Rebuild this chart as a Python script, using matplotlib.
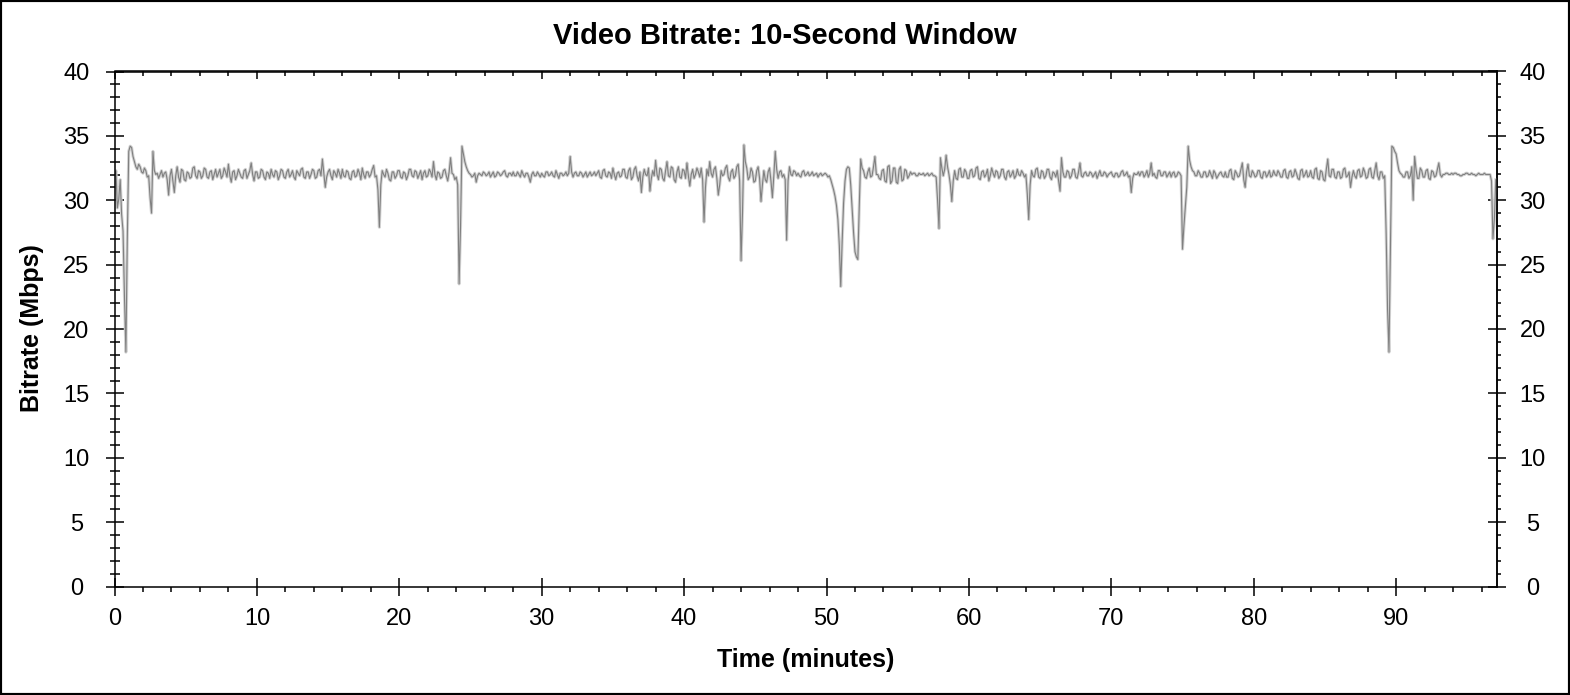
import matplotlib.pyplot as plt
from matplotlib.ticker import MultipleLocator
from matplotlib.patches import Rectangle
import numpy as np

plt.rcParams['font.family'] = ['Liberation Sans', 'DejaVu Sans']

# Bitrate do video (Mbps), uma amostra a cada 0.1 minuto (cada linha = 2 minutos)
passo_min = 0.1
bitrate = [
    31.8, 32.3, 29.4, 30.1, 31.6, 28.9, 27.6, 22.5, 18.2, 27.0, 33.8, 34.2, 34.1, 33.4, 33.0, 32.6, 32.4, 32.8, 32.6, 32.2,
    32.1, 32.5, 32.3, 31.8, 31.9, 30.2, 29.0, 33.8, 32.3, 32.0, 32.1, 31.7, 32.0, 32.3, 31.8, 32.1, 32.2, 31.6, 30.4, 31.9,
    32.4, 31.5, 30.6, 31.9, 32.6, 31.8, 31.4, 32.4, 32.3, 31.6, 31.5, 32.2, 32.1, 31.7, 31.8, 32.5, 32.6, 31.9, 31.7, 32.3,
    32.2, 31.7, 31.9, 32.5, 32.4, 31.8, 31.7, 32.2, 32.3, 31.6, 32.0, 32.4, 31.8, 32.1, 32.4, 31.7, 31.9, 32.5, 32.2, 31.8,
    32.8, 31.9, 31.4, 32.2, 32.3, 31.6, 31.9, 32.4, 32.1, 31.8, 31.7, 32.3, 32.4, 31.7, 32.0, 32.3, 32.9, 32.0, 31.5, 32.2,
    32.2, 31.7, 31.8, 32.4, 32.3, 31.8, 31.6, 32.2, 32.1, 31.7, 32.4, 32.0, 31.8, 32.3, 32.2, 31.6, 31.9, 32.4, 32.3, 31.8,
    31.7, 32.2, 32.4, 31.8, 32.0, 32.3, 31.8, 31.6, 32.3, 32.1, 31.9, 32.4, 32.5, 31.8, 31.7, 32.2, 32.2, 31.7, 32.0, 32.4,
    32.3, 31.7, 31.8, 32.3, 32.4, 31.9, 33.2, 32.1, 31.0, 31.8, 32.2, 32.4, 31.9, 31.6, 32.3, 32.1, 31.8, 32.4, 32.1, 31.7,
    32.4, 31.9, 31.8, 32.3, 32.2, 31.7, 31.6, 32.2, 32.3, 31.8, 31.9, 32.4, 32.1, 31.6, 32.5, 32.0, 31.7, 32.2, 32.2, 31.8,
    32.0, 32.4, 32.7, 31.8, 31.9, 30.8, 27.9, 31.2, 32.3, 32.0, 31.8, 32.4, 32.1, 31.6, 31.5, 32.2, 32.2, 31.7, 31.9, 32.3,
    32.3, 31.8, 31.7, 32.2, 32.1, 31.6, 31.9, 32.4, 32.4, 31.9, 31.8, 32.3, 32.2, 31.7, 32.0, 32.3, 31.6, 32.1, 32.3, 31.8,
    31.9, 32.4, 32.2, 31.8, 33.0, 32.0, 31.6, 32.2, 32.1, 31.7, 31.8, 32.3, 32.4, 31.9, 31.5, 32.2, 33.3, 32.1, 32.0, 31.6,
    31.8, 31.2, 23.5, 28.0, 34.2, 33.6, 33.0, 32.6, 32.3, 32.1, 32.0, 31.8, 31.9, 32.1, 31.4, 31.9, 32.1, 32.0, 31.9, 32.2,
    32.1, 31.9, 32.0, 32.2, 31.8, 32.0, 32.2, 31.8, 31.9, 32.2, 32.1, 31.9, 32.0, 32.2, 32.3, 31.9, 31.8, 32.1, 32.1, 31.9,
    32.2, 31.9, 31.9, 32.2, 32.0, 31.8, 32.3, 32.0, 31.8, 32.1, 32.1, 31.8, 31.4, 32.0, 32.2, 31.9, 31.9, 32.2, 32.0, 31.8,
    32.1, 31.9, 31.8, 32.2, 32.2, 31.9, 32.0, 32.2, 31.9, 31.8, 32.3, 32.0, 31.7, 32.1, 32.1, 31.9, 32.0, 32.2, 31.9, 32.1,
    33.4, 32.2, 31.8, 32.1, 32.2, 31.9, 31.9, 32.2, 32.1, 31.8, 32.0, 32.2, 31.8, 32.0, 32.2, 31.9, 32.0, 32.2, 31.9, 32.1,
    32.3, 31.8, 31.7, 32.3, 32.4, 31.9, 31.8, 32.2, 32.1, 31.7, 32.5, 32.0, 31.6, 32.1, 32.2, 31.8, 31.9, 32.4, 32.4, 31.8,
    31.7, 32.3, 32.5, 31.6, 31.8, 32.4, 32.6, 31.9, 31.5, 32.2, 30.6, 31.8, 32.4, 32.0, 31.9, 32.5, 30.7, 31.7, 32.3, 31.9,
    33.1, 32.0, 31.6, 32.5, 32.4, 31.7, 31.5, 32.3, 33.0, 31.9, 31.8, 32.6, 32.5, 31.6, 31.4, 32.2, 32.6, 31.8, 31.7, 32.4,
    32.3, 31.7, 32.9, 31.9, 31.1, 32.0, 32.4, 31.7, 32.0, 32.5, 32.2, 31.8, 32.5, 31.6, 28.3, 31.0, 32.4, 31.9, 33.0, 32.1,
    31.8, 32.4, 32.6, 31.7, 30.4, 31.2, 32.3, 31.9, 32.0, 32.5, 32.7, 31.8, 31.5, 32.2, 32.4, 31.7, 31.9, 32.6, 32.8, 31.5,
    25.3, 29.0, 34.3, 33.0, 32.5, 31.6, 31.8, 32.5, 32.2, 31.4, 31.5, 32.3, 32.6, 31.7, 29.9, 31.2, 32.3, 31.6, 31.4, 32.2,
    32.5, 31.5, 30.2, 31.9, 33.8, 32.4, 31.7, 32.2, 32.3, 31.8, 32.0, 31.6, 26.9, 31.5, 32.6, 32.0, 31.9, 32.3, 32.2, 31.9,
    32.1, 31.9, 31.8, 32.2, 32.3, 31.9, 32.0, 32.2, 31.9, 32.0, 32.2, 31.9, 32.0, 32.1, 31.8, 32.0, 32.1, 31.9, 32.0, 32.1,
    32.0, 31.8, 31.9, 31.6, 31.2, 30.8, 30.3, 29.6, 28.5, 26.5, 23.3, 26.8, 29.8, 31.5, 32.4, 32.6, 32.5, 31.2, 29.3, 27.5,
    26.0, 25.6, 25.4, 29.5, 33.2, 32.5, 32.3, 31.8, 31.7, 32.2, 32.5, 31.8, 31.9, 32.6, 33.4, 32.0, 32.0, 31.7, 31.6, 32.3,
    32.4, 31.5, 31.4, 32.6, 32.7, 31.3, 31.5, 32.5, 32.5, 31.4, 31.3, 32.4, 32.6, 31.5, 31.6, 32.4, 32.3, 31.7, 31.9, 32.2,
    32.0, 32.1, 32.1, 31.9, 31.9, 32.1, 32.0, 32.0, 32.1, 31.9, 32.0, 32.1, 31.9, 32.0, 32.1, 31.9, 31.9, 31.8, 30.0, 27.8,
    33.3, 32.5, 31.9, 32.4, 33.5, 32.6, 32.0, 31.2, 29.9, 31.5, 32.3, 31.7, 31.6, 32.4, 32.5, 31.8, 31.8, 32.4, 32.2, 31.7,
    31.7, 32.3, 32.4, 31.8, 31.9, 32.5, 32.6, 31.7, 31.6, 32.2, 32.3, 31.8, 32.0, 32.4, 31.5, 31.9, 32.5, 32.1, 31.8, 32.3,
    32.2, 31.7, 31.9, 32.4, 32.4, 31.8, 31.6, 32.2, 32.3, 31.8, 32.0, 32.3, 31.7, 31.9, 32.4, 32.0, 31.9, 32.3, 32.1, 31.8,
    32.0, 30.5, 28.5, 31.2, 32.3, 31.9, 31.8, 32.4, 32.5, 31.8, 31.7, 32.3, 32.2, 31.7, 31.9, 32.4, 32.4, 31.8, 31.6, 32.2,
    32.1, 31.8, 32.3, 31.5, 30.7, 33.3, 32.2, 31.8, 31.8, 32.3, 32.2, 31.7, 31.9, 32.4, 32.4, 31.8, 31.7, 32.2, 32.9, 31.9,
    31.8, 32.1, 32.2, 31.9, 31.9, 32.2, 32.1, 31.8, 32.0, 32.2, 31.7, 32.0, 32.3, 31.9, 31.9, 32.2, 32.1, 31.8, 32.0, 32.1,
    32.2, 31.9, 31.8, 32.1, 32.1, 31.8, 31.9, 32.2, 32.3, 31.9, 32.0, 32.2, 31.8, 31.9, 30.6, 31.7, 32.1, 32.0, 32.0, 32.2,
    31.9, 32.2, 32.2, 31.8, 32.0, 32.3, 31.8, 32.1, 32.9, 31.9, 32.1, 31.8, 31.7, 32.3, 32.3, 31.9, 31.9, 32.2, 32.2, 31.8,
    32.0, 32.2, 31.8, 32.1, 32.2, 31.8, 31.9, 32.2, 32.1, 31.9, 26.2, 28.0, 29.5, 31.0, 34.2, 33.1, 32.6, 32.3, 32.2, 31.9,
    31.9, 32.3, 32.1, 31.8, 31.8, 32.2, 32.2, 31.8, 31.9, 32.3, 32.0, 31.7, 32.3, 32.1, 31.7, 31.9, 32.1, 32.2, 31.9, 31.8,
    32.2, 31.8, 31.8, 32.3, 32.4, 31.7, 31.6, 32.3, 32.1, 31.8, 31.9, 32.4, 32.9, 31.6, 31.0, 32.2, 32.8, 31.9, 31.8, 32.3,
    32.1, 31.8, 31.9, 32.3, 32.3, 31.8, 31.7, 32.2, 32.2, 31.8, 32.0, 32.3, 31.8, 31.9, 32.3, 32.0, 31.9, 32.3, 32.1, 31.8,
    31.8, 32.3, 32.4, 31.8, 31.7, 32.2, 32.3, 31.8, 31.9, 32.4, 32.1, 31.7, 31.6, 32.3, 32.4, 31.8, 32.0, 32.3, 31.8, 31.9,
    32.3, 31.8, 31.7, 32.4, 32.5, 31.7, 31.6, 32.3, 32.2, 31.6, 31.5, 32.4, 33.2, 31.9, 31.8, 32.4, 32.4, 31.8, 31.7, 32.2,
    32.2, 31.7, 31.8, 32.4, 32.5, 31.8, 31.9, 32.2, 31.0, 31.8, 32.3, 31.9, 31.7, 32.3, 32.4, 31.8, 31.9, 32.5, 32.2, 31.7,
    31.8, 32.4, 32.5, 31.8, 31.7, 32.3, 32.9, 31.9, 31.6, 32.2, 32.2, 31.7, 31.9, 27.5, 21.5, 18.2, 26.5, 34.2, 34.1, 33.8,
    33.6, 32.9, 32.3, 32.1, 32.0, 31.8, 31.8, 32.2, 32.2, 31.7, 31.9, 32.6, 30.0, 33.4, 32.4, 31.7, 31.7, 32.5, 32.3, 31.8,
    31.8, 32.3, 32.4, 31.7, 31.6, 32.3, 32.2, 31.8, 31.9, 32.4, 32.9, 32.0, 31.8, 32.0, 32.0, 32.1, 32.1, 32.0, 32.0, 32.1,
    32.0, 32.1, 32.1, 32.0, 32.0, 31.9, 31.9, 32.0, 32.0, 32.1, 32.1, 32.0, 32.0, 32.1, 32.0, 32.0, 31.9, 32.0, 32.1, 32.0,
    32.0, 32.0, 32.1, 32.0, 32.0, 32.0, 32.0, 31.5, 27.0, 28.5, 31.6,
]
minutos = np.arange(len(bitrate)) * passo_min

W, H = 1570, 695
fig = plt.figure(figsize=(W / 100, H / 100), dpi=100)
ax = fig.add_axes([114.5 / W, 1 - 586.5 / H, (1496.5 - 114.5) / W, (586.5 - 71.5) / H])

# faixa clara por tras e linha cinza escura por cima
ax.plot(minutos, bitrate, color='#d3d3d3', lw=2.2)
ax.plot(minutos, bitrate, color='#808080', lw=0.8)

ax.set_xlim(0, 97.05)
ax.set_ylim(0, 40)

for s in ax.spines.values():
    s.set_linewidth(1.1)

ax.xaxis.set_major_locator(MultipleLocator(10))
ax.xaxis.set_minor_locator(MultipleLocator(2))
ax.yaxis.set_major_locator(MultipleLocator(5))
ax.yaxis.set_minor_locator(MultipleLocator(1))
ax.tick_params(axis='x', which='major', direction='inout', length=13.5, width=1.1,
               labelsize=17, pad=9, top=False)
ax.tick_params(axis='x', which='minor', direction='out', length=3.6, width=1.1, top=False)
ax.tick_params(axis='y', which='major', direction='inout', length=13, width=1.1,
               labelsize=17, pad=21, right=False)
ax.tick_params(axis='y', which='minor', direction='inout', length=6.7, width=1.1, right=False)
plt.setp(ax.get_yticklabels(), ha='center')

# eixo de cima: so marcas para dentro
topo = ax.secondary_xaxis('top')
topo.xaxis.set_major_locator(MultipleLocator(10))
topo.xaxis.set_minor_locator(MultipleLocator(2))
topo.tick_params(which='major', direction='in', length=6, width=1.1, labeltop=False)
topo.tick_params(which='minor', direction='in', length=3.6, width=1.1)
topo.spines['top'].set_linewidth(1.1)

# eixo da direita com rotulos
direita = ax.secondary_yaxis('right')
direita.yaxis.set_major_locator(MultipleLocator(5))
direita.yaxis.set_minor_locator(MultipleLocator(1))
direita.tick_params(which='major', direction='inout', length=13, width=1.1,
                    labelsize=17, pad=19.5)
direita.tick_params(which='minor', direction='out', length=3, width=1.1)
direita.spines['right'].set_linewidth(1.1)
plt.setp(direita.get_yticklabels(), ha='center')

fig.text(0.5, 1 - 43.5 / H, 'Video Bitrate: 10-Second Window', ha='center', va='baseline',
         fontsize=21, fontweight='bold')
fig.text(805.5 / W, 1 - 667 / H, 'Time (minutes)', ha='center', va='baseline',
         fontsize=18, fontweight='bold')
fig.text(32.5 / W, 1 - 328 / H, 'Bitrate (Mbps)', ha='center', va='center', rotation=90,
         fontsize=18, fontweight='bold')

# moldura preta em volta da figura
fig.patches.append(Rectangle((0, 0), 1, 1, transform=fig.transFigure, fill=False,
                             edgecolor='black', lw=3))

fig.savefig('out.png', dpi=100)
